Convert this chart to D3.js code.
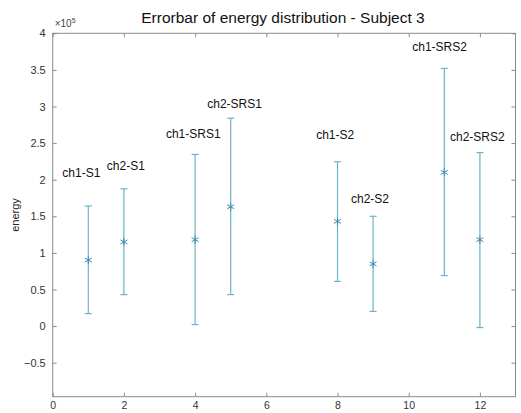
<!DOCTYPE html>
<html>
<head>
<meta charset="utf-8">
<script src="https://cdn.jsdelivr.net/npm/d3@7"></script>
<style>
  body { margin: 0; background: #fff; }
  text { font-family: "Liberation Sans", Arial, sans-serif; }
</style>
</head>
<body>
<div id="chart"></div>
<script>
// chart values (energy, units of 1e5)
const xs     = [1, 2, 4, 5, 8, 9, 11, 12];
const means  = [0.90, 1.15, 1.18, 1.63, 1.43, 0.85, 2.10, 1.18];
const uppers = [1.64, 1.875, 2.345, 2.84, 2.245, 1.50, 3.52, 2.37];
const lowers = [0.17, 0.43, 0.02, 0.43, 0.61, 0.20, 0.69, -0.02];

// text annotations (data coordinates)
const labels = ['ch1-S1', 'ch2-S1', 'ch1-SRS1', 'ch2-SRS1', 'ch1-S2', 'ch2-S2', 'ch1-SRS2', 'ch2-SRS2'];
const labelX = [0.27, 1.52, 3.18, 4.34, 7.40, 8.38, 10.10, 11.16];
const labelY = [2.09, 2.19, 2.63, 3.03, 2.61, 1.74, 3.82, 2.58];

const xTicks = [0, 2, 4, 6, 8, 10, 12];
const yTicks = [-0.5, 0, 0.5, 1, 1.5, 2, 2.5, 3, 3.5, 4];

const width = 521, height = 413;
const margin = {left: 52.7, right: 5.5, top: 33.3, bottom: 16.3};

const svg = d3.select('#chart')
  .append('svg')
  .attr('width', width)
  .attr('height', height);

const x = d3.scaleLinear().domain([0, 13]).range([margin.left, width - margin.right]);
const y = d3.scaleLinear().domain([-0.965, 4]).range([height - margin.bottom, margin.top]);

const axisColor = '#8a8a8a';
const tickLen = 4;

// axes (box with inward ticks)
const xAxis = svg.append('g')
  .attr('transform', `translate(0,${y.range()[0]})`)
  .call(d3.axisBottom(x).tickValues(xTicks).tickSize(-tickLen).tickPadding(5).tickFormat(d3.format('d')));
const xTop = svg.append('g')
  .attr('transform', `translate(0,${y.range()[1]})`)
  .call(d3.axisTop(x).tickValues(xTicks).tickSize(-tickLen).tickFormat(''));
const yAxis = svg.append('g')
  .attr('transform', `translate(${x.range()[0]},0)`)
  .call(d3.axisLeft(y).tickValues(yTicks).tickSize(-tickLen).tickPadding(7).tickFormat(d => d3.format('')(d)));
const yRight = svg.append('g')
  .attr('transform', `translate(${x.range()[1]},0)`)
  .call(d3.axisRight(y).tickValues(yTicks).tickSize(-tickLen).tickFormat(''));

[xAxis, xTop, yAxis, yRight].forEach(g => {
  g.selectAll('.tick line').attr('stroke', axisColor);
  g.selectAll('.tick text').attr('fill', '#333').style('font-size', '11px');
});
xAxis.selectAll('.tick text').style('font-size', '10.5px');
// plain box instead of d3's domain paths
svg.selectAll('.domain').remove();
svg.append('rect')
  .attr('x', x.range()[0]).attr('y', y.range()[1])
  .attr('width', x.range()[1] - x.range()[0])
  .attr('height', y.range()[0] - y.range()[1])
  .attr('fill', 'none').attr('stroke', axisColor).attr('stroke-width', 1);

// exponent
const expo = svg.append('text')
  .attr('x', x(0) + 2).attr('y', y(4) - 6)
  .attr('fill', '#444').style('font-size', '10px');
expo.append('tspan').text('×10');
expo.append('tspan').attr('dy', -4).style('font-size', '7px').text('5');

// title
svg.append('text')
  .attr('x', 283).attr('y', 23)
  .attr('text-anchor', 'middle')
  .attr('fill', '#111')
  .style('font-size', '15.5px')
  .text('Errorbar of energy distribution - Subject 3');

// y label
svg.append('text')
  .attr('transform', `translate(19,${(y.range()[0] + y.range()[1]) / 2}) rotate(-90)`)
  .attr('text-anchor', 'middle')
  .attr('fill', '#222')
  .style('font-size', '11px')
  .text('energy');

// error bars
const barColor = '#6db3c6';
const cap = 3.5;
const bars = svg.append('g').selectAll('g')
  .data(xs.map((d, i) => ({x: d, m: means[i], hi: uppers[i], lo: lowers[i]})))
  .enter().append('g');

bars.append('line')
  .attr('x1', d => x(d.x)).attr('x2', d => x(d.x))
  .attr('y1', d => y(d.hi)).attr('y2', d => y(d.lo))
  .attr('stroke', barColor).attr('stroke-width', 1.2);
bars.append('line')
  .attr('x1', d => x(d.x) - cap).attr('x2', d => x(d.x) + cap)
  .attr('y1', d => y(d.hi)).attr('y2', d => y(d.hi))
  .attr('stroke', barColor).attr('stroke-width', 1.2);
bars.append('line')
  .attr('x1', d => x(d.x) - cap).attr('x2', d => x(d.x) + cap)
  .attr('y1', d => y(d.lo)).attr('y2', d => y(d.lo))
  .attr('stroke', barColor).attr('stroke-width', 1.2);

// star markers
const star = d3.symbol().type(d3.symbolAsterisk).size(45);
bars.append('path')
  .attr('d', star)
  .attr('transform', d => `translate(${x(d.x)},${y(d.m)})`)
  .attr('fill', 'none')
  .attr('stroke', '#3c8db3')
  .attr('stroke-width', 1);

// annotations
svg.append('g').selectAll('text')
  .data(labels)
  .enter().append('text')
  .attr('x', (d, i) => x(labelX[i]))
  .attr('y', (d, i) => y(labelY[i]))
  .attr('dy', '0.35em')
  .attr('fill', '#111')
  .style('font-size', '12px')
  .text(d => d);
</script>
</body>
</html>
